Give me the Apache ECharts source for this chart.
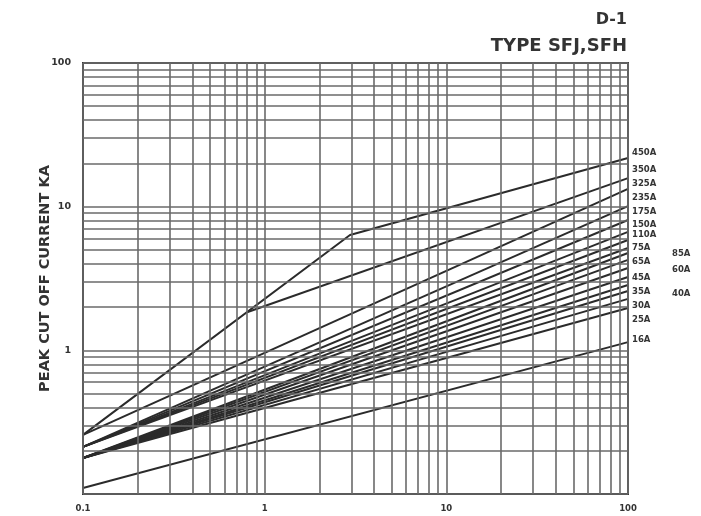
<!DOCTYPE html>
<html><head><meta charset="utf-8">
<script src="https://cdn.jsdelivr.net/npm/echarts@6/dist/echarts.min.js"></script>
<style>html,body{margin:0;padding:0;background:#fff}#c{width:701px;height:516px}</style>
</head><body><div id="c"></div>
<script>
// Fuse ratings (line labels)
const ratings = ['450A','350A','325A','235A','175A','150A','110A','85A','75A','65A','60A','45A','40A','35A','30A','25A','16A'];
// start of each curve: prospective current (kA) and peak cut-off current (kA)
const startProspective = [0.1,0.8,0.1,0.1,0.1,0.1,0.1,0.1,0.1,0.1,0.1,0.1,0.1,0.1,0.1,0.1,0.1];
const startPeak = [0.258,1.84,0.258,0.213,0.213,0.213,0.213,0.213,0.178,0.178,0.178,0.178,0.178,0.178,0.178,0.178,0.11];
// peak cut-off current (kA) at prospective current 100 kA
const peakAtHigh = [21.8,15.8,13.3,10.1,8.08,6.67,5.86,5.16,4.76,4.26,3.74,3.24,2.85,2.59,2.28,1.97,1.14];
// knee of the 450A curve (prospective kA, peak kA)
const knee450 = [2.95, 6.35];
const xRange = [0.1, 100];
const yRange = [0.1, 100];
// log grid positions
const decades = [0.1, 1, 10];
const mult = [1,2,3,4,5,6,7,8,9];
// label offsets (layout only)
const labelOffset = {
  '450A':[4,-5],'350A':[4,-8],'325A':[4,-5],'235A':[4,-8],'175A':[4,-8],'150A':[4,-7],'110A':[4,-5],
  '85A':[44,6],'75A':[4,-5],'65A':[4,2],'60A':[44,2],'45A':[4,1],'40A':[44,9],'35A':[4,1],'30A':[4,7],'25A':[4,12],'16A':[4,-2]
};

const gridVals = [];
decades.forEach(d => mult.forEach(m => gridVals.push(+(d*m).toPrecision(3))));
gridVals.push(100);

const FONT = 'DejaVu Sans, Liberation Sans, sans-serif';
const lineColor = '#2b2b2b';
const series = ratings.map((r, i) => {
  const pts = [[startProspective[i], startPeak[i]]];
  if (r === '450A') pts.push(knee450);
  pts.push([xRange[1], peakAtHigh[i]]);
  return {
    type: 'line', name: r, data: pts, symbol: 'none', silent: true,
    lineStyle: { color: lineColor, width: 2 },
    endLabel: { show: true, formatter: r, offset: labelOffset[r], color: '#333',
      fontSize: 8.5, fontWeight: 'bold', fontFamily: FONT, distance: 0 }
  };
});
series.unshift({
  type: 'line', data: [], silent: true,
  markLine: {
    silent: true, symbol: ['none','none'], label: { show: false },
    lineStyle: { type: 'solid', color: '#6a6a6a', width: 1.6 },
    data: gridVals.map(v => ({ xAxis: v })).concat(gridVals.map(v => ({ yAxis: v })))
  }
});

const chart = echarts.init(document.getElementById('c'), null, { renderer: 'canvas' });
chart.setOption({
  animation: false,
  backgroundColor: '#fff',
  title: [
    { text: 'D-1', right: 74, top: 12, padding: 0, textStyle: { fontSize: 16, fontWeight: 'bold', color: '#333', fontFamily: FONT } },
    { text: 'TYPE SFJ,SFH', right: 74, top: 37, padding: 0, textStyle: { fontSize: 18, fontWeight: 'bold', color: '#333', fontFamily: FONT } }
  ],
  grid: { left: 83, right: 73, top: 63, bottom: 22, show: true, borderColor: '#444', borderWidth: 2 },
  xAxis: {
    type: 'log', logBase: 10, min: xRange[0], max: xRange[1],
    axisLine: { lineStyle: { color: '#333', width: 2 } },
    axisTick: { show: false }, splitLine: { show: false },
    axisLabel: { color: '#333', fontSize: 8.5, fontWeight: 'bold', margin: 10, fontFamily: FONT,
      formatter: v => String(v) }
  },
  yAxis: {
    type: 'log', logBase: 10, min: yRange[0], max: yRange[1],
    name: 'PEAK CUT OFF CURRENT KA', nameLocation: 'middle', nameGap: 30, nameMoveOverlap: false,
    nameTextStyle: { fontSize: 14.5, fontWeight: 'bold', color: '#333', fontFamily: FONT },
    axisLine: { lineStyle: { color: '#333', width: 2 } },
    axisTick: { show: false }, splitLine: { show: false },
    axisLabel: { color: '#333', fontWeight: 'bold', margin: 12, fontFamily: FONT,
      fontSize: 9.5,
      formatter: v => v < 0.5 ? '' : String(v) }
  },
  series
});
</script></body></html>
